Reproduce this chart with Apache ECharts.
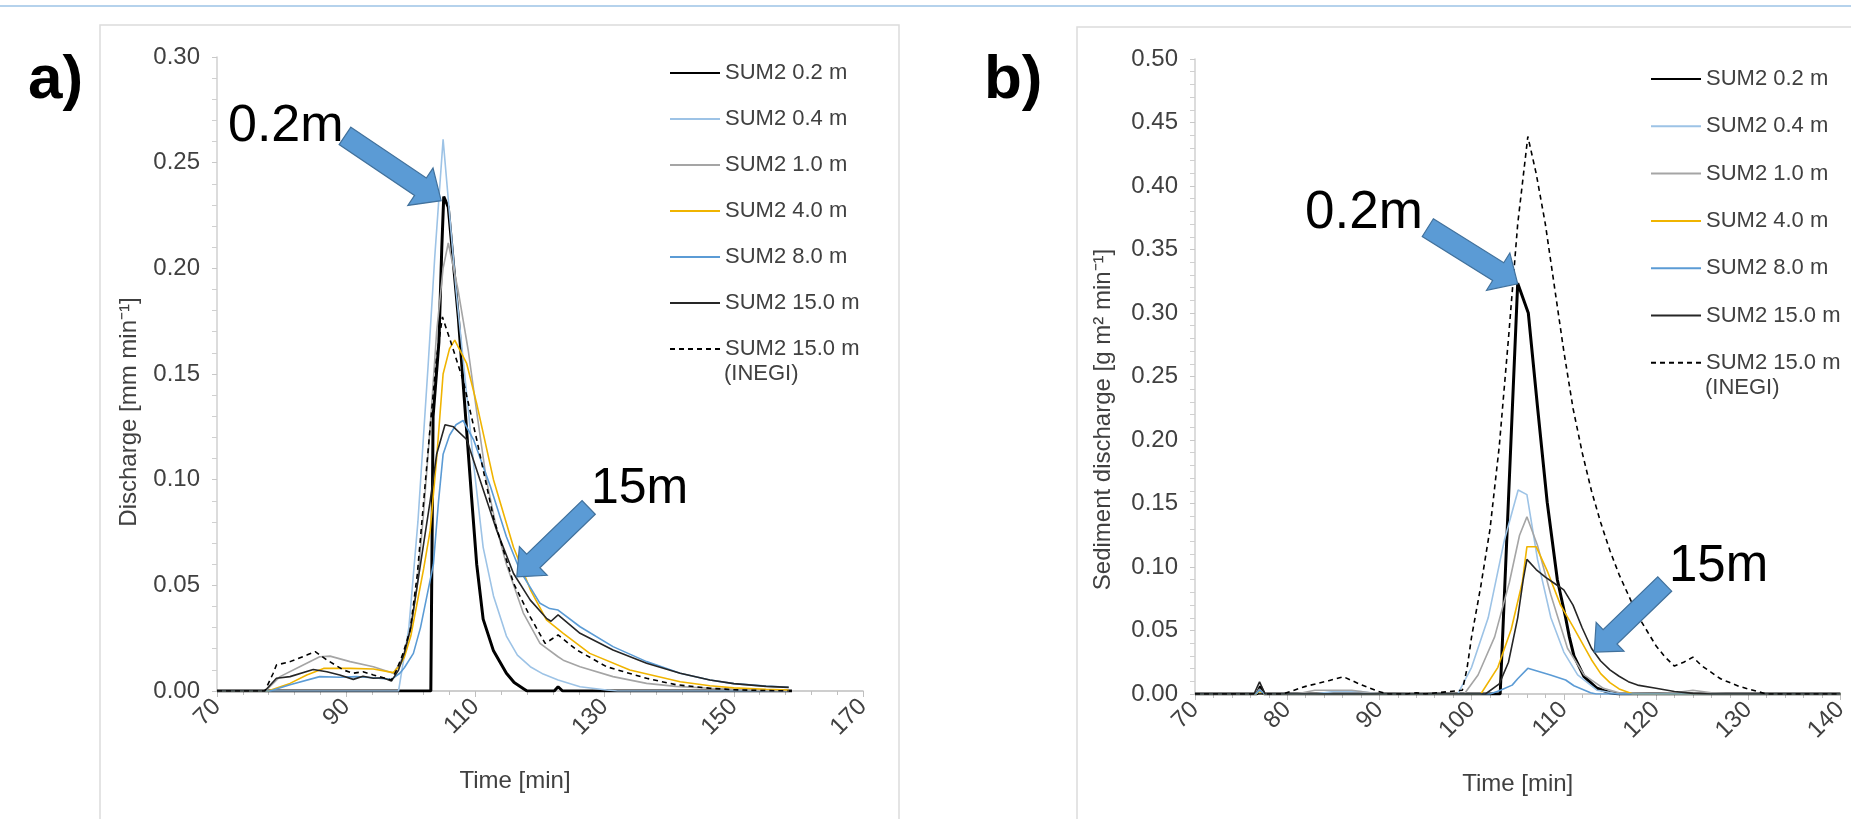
<!DOCTYPE html>
<html lang="en">
<head>
<meta charset="UTF-8">
<title>SUM2 discharge</title>
<script src="https://cdn.jsdelivr.net/npm/echarts@6/dist/echarts.min.js"></script>
<style>
  html, body { margin: 0; padding: 0; background: #fff; }
  #main { width: 1851px; height: 819px; }
</style>
</head>
<body>
<div id="main"></div>
<script>
// series names (same for both panels)
const names = ['SUM2 0.2 m', 'SUM2 0.4 m', 'SUM2 1.0 m', 'SUM2 4.0 m', 'SUM2 8.0 m', 'SUM2 15.0 m', 'SUM2 15.0 m (INEGI)'];

// a) discharge [mm min-1], [time, value]
const qA02 = [[70,0],[103.1,0],[103.45,0.13],[104.35,0.165],[104.8,0.21],[105.1,0.234],[105.8,0.229],[107.35,0.177],[108.65,0.123],[109.4,0.092],[110.2,0.06],[111.2,0.034],[112.8,0.019],[114.8,0.0084],[116,0.004],[117.5,0.001],[118,0],[122.2,0],[122.8,0.002],[123.5,0],[159,0]];
const qA04 = [[70,0],[98.1,0],[99.7,0.03],[101.1,0.08],[102.7,0.155],[103.7,0.205],[105,0.261],[106.3,0.215],[107,0.19],[108,0.16],[109,0.13],[109.7,0.108],[111.2,0.068],[112.8,0.045],[114.8,0.026],[116.5,0.017],[118.5,0.0115],[120.5,0.008],[122.8,0.0052],[126.2,0.002],[130.3,0.0005],[132,0],[158.5,0]];
const qA10 = [[70,0],[77.5,0],[79.75,0.0068],[82.8,0.0115],[85.9,0.0162],[87.5,0.0165],[90.6,0.0139],[94.2,0.0115],[97.3,0.0084],[98.3,0.013],[99,0.018],[100,0.03],[101,0.05],[102,0.085],[103,0.125],[104,0.17],[105,0.2],[105.8,0.212],[107.3,0.19],[108.9,0.161],[110.3,0.13],[111.7,0.1],[113.2,0.078],[114.8,0.06],[117.4,0.037],[120,0.0225],[122.8,0.0162],[123.6,0.0146],[126.2,0.0115],[131.3,0.0068],[136.5,0.0036],[141,0.0022],[146.3,0.0013],[150,0.0008],[155,0.0003],[158.5,0.0002]];
const qA40 = [[70,0],[77.9,0],[81.3,0.0036],[83.9,0.0076],[86.5,0.0107],[90.6,0.0107],[94.2,0.0104],[97.3,0.0087],[98.3,0.012],[99,0.016],[100,0.026],[101,0.042],[102,0.058],[103,0.076],[104,0.11],[105,0.15],[106,0.162],[106.8,0.166],[108.65,0.155],[110.2,0.136],[112.8,0.1],[115.9,0.068],[118.5,0.048],[121,0.0336],[123.6,0.0273],[127.7,0.0178],[133.9,0.0099],[141.7,0.0044],[146.3,0.0025],[150,0.0015],[155,0.0008],[158.5,0.0005]];
const qA80 = [[70,0],[78.2,0],[81.3,0.003],[85.9,0.0068],[89,0.0065],[91.6,0.0068],[94.2,0.0063],[97,0.0055],[98.3,0.0084],[99,0.011],[100.4,0.0178],[101.5,0.03],[102.5,0.045],[103.5,0.06],[104.3,0.09],[105,0.112],[106,0.121],[107,0.126],[108.1,0.128],[109.7,0.119],[112.3,0.097],[114.8,0.073],[116.9,0.057],[120,0.0415],[121.5,0.039],[122.8,0.0383],[126.2,0.0304],[131.3,0.021],[136.5,0.0139],[141.7,0.0084],[146.3,0.0052],[150,0.0035],[155,0.0023],[158.5,0.0018]];
const qA150 = [[70,0],[77.4,0],[79.2,0.006],[81.3,0.0068],[84.9,0.0102],[87,0.0091],[89,0.0076],[91.1,0.0055],[92.6,0.007],[94.2,0.006],[95.7,0.0063],[97,0.0047],[98.1,0.0099],[99,0.018],[100,0.03],[101,0.05],[102,0.07],[103,0.09],[104,0.112],[105.3,0.126],[106.6,0.125],[108.65,0.119],[110.7,0.1],[113.3,0.076],[115.9,0.0556],[118.5,0.043],[121,0.0344],[121.7,0.033],[122.8,0.036],[126.2,0.0273],[131.3,0.0194],[136.5,0.0131],[141.7,0.0084],[146.3,0.0052],[150,0.0035],[155,0.0022],[158.5,0.0017]];
const qAinegi = [[70,0],[77.4,0],[78.7,0.0084],[79.2,0.0123],[81.3,0.0139],[83.9,0.017],[85.2,0.0186],[87,0.0147],[89.6,0.0099],[91.1,0.0084],[92.6,0.0091],[94.2,0.0076],[97,0.0052],[97.8,0.0099],[98.8,0.0178],[99.9,0.0288],[101,0.055],[102,0.09],[103,0.125],[104,0.158],[104.9,0.177],[106.1,0.166],[108.1,0.147],[110.2,0.119],[112.8,0.082],[115.9,0.051],[118.5,0.035],[120.8,0.0225],[122.8,0.0265],[125.7,0.0194],[130.3,0.0115],[136.5,0.006],[141,0.003],[146.3,0.0013],[150,0.0006],[155,0.0002],[158.5,0]];

// b) sediment discharge [g m2 min-1], [time, value]
const sB02 = [[70,0],[76.7,0],[77.1,0.006],[77.5,0],[103.1,0],[105,0.3235],[106.15,0.3],[107.15,0.226],[108.2,0.151],[109.3,0.09],[110.2,0.06],[110.6,0.045],[111.1,0.03],[112.2,0.0136],[113.6,0.0045],[115,0.001],[116,0],[140,0]];
const sB04 = [[70,0],[76.6,0],[77,0.003],[77.5,0],[83,0],[85,0.002],[88,0.002],[90,0],[98.5,0],[100,0.021],[101.8,0.06],[103.55,0.121],[105.05,0.1606],[106,0.157],[107.15,0.106],[108.6,0.06],[110,0.033],[111.5,0.015],[113.6,0.003],[116,0],[140,0]];
const sB10 = [[70,0],[76.6,0],[77,0.004],[77.5,0],[81,0],[83,0.003],[87,0.003],[89,0.001],[91,0],[94,0.001],[96,0],[99.2,0],[100.7,0.015],[102.5,0.045],[104.1,0.088],[105.2,0.125],[106,0.1395],[107.15,0.117],[108.6,0.078],[110.4,0.036],[112.2,0.015],[114.3,0.0045],[116,0.001],[120,0],[122,0.001],[124,0.003],[126,0.001],[128,0],[140,0]];
const sB40 = [[70,0],[76.6,0],[77,0.002],[77.5,0],[101,0],[102.85,0.021],[104.3,0.051],[105.5,0.088],[106,0.116],[107,0.116],[108.2,0.097],[109.65,0.07],[111,0.053],[112,0.04],[113,0.027],[114,0.016],[115,0.009],[116,0.004],[117.5,0],[140,0]];
const sB80 = [[70,0],[76.6,0],[77,0.003],[77.5,0],[102,0],[103,0.0026],[104.4,0.007],[105,0.012],[106.1,0.0202],[108.55,0.015],[110.2,0.011],[111.1,0.0065],[112.9,0.001],[113.5,0],[140,0]];
const sB150 = [[70,0],[76.4,0],[77,0.0095],[77.6,0],[101.5,0],[103,0.008],[104,0.025],[105,0.06],[105.6,0.09],[106,0.106],[107,0.098],[108,0.092],[109,0.087],[110,0.082],[111,0.07],[112,0.052],[113,0.036],[114,0.026],[115,0.019],[116,0.014],[117,0.0097],[118,0.007],[120,0.0045],[122,0.002],[124,0.0005],[126,0],[140,0]];
const sBinegi = [[70,0],[79.5,0],[82,0.006],[84.5,0.0105],[86.1,0.0136],[88.1,0.007],[89.9,0.002],[91,0],[93,0],[94,0.001],[95,0],[99,0.003],[99.5,0.02],[100,0.045],[101,0.085],[102,0.13],[103,0.195],[104,0.28],[105,0.37],[106.1,0.439],[107,0.41],[108,0.37],[109,0.32],[110,0.27],[111,0.225],[112,0.19],[113,0.16],[114,0.135],[115,0.113],[116,0.094],[117,0.078],[118,0.062],[119,0.05],[120,0.038],[121,0.029],[122,0.022],[123,0.025],[124,0.029],[125,0.022],[126,0.017],[127,0.012],[128,0.009],[129,0.006],[130,0.004],[131,0.002],[132,0],[140,0]];

const panelA = [qA02, qA04, qA10, qA40, qA80, qA150, qAinegi];
const panelB = [sB02, sB04, sB10, sB40, sB80, sB150, sBinegi];

// line looks, in the same order as names
const looks = [
    { color: '#000000', width: 3, type: 'solid' },
    { color: '#9dc3e6', width: 1.6, type: 'solid' },
    { color: '#a5a5a5', width: 1.6, type: 'solid' },
    { color: '#f0b400', width: 1.6, type: 'solid' },
    { color: '#5b9bd5', width: 1.6, type: 'solid' },
    { color: '#262626', width: 1.6, type: 'solid' },
    { color: '#000000', width: 1.6, type: [5, 4] }
];

const FONT = 'Liberation Sans, Arial, sans-serif';
const TXT = '#404040';

function makeSeries(data, i, g) {
    return {
        name: names[i],
        type: 'line',
        xAxisIndex: g,
        yAxisIndex: g,
        data: data,
        symbol: 'none',
        showSymbol: false,
        animation: false,
        lineStyle: { color: looks[i].color, width: looks[i].width, type: looks[i].type },
        itemStyle: { color: looks[i].color }
    };
}

// shift moves the axis title left along the axis
function xAxisCfg(g, max, interval, shift) {
    return {
        gridIndex: g, type: 'value', min: 70, max: max, interval: interval,
        name: 'Time [min]', nameLocation: 'middle', nameGap: 78,
        nameTextStyle: { fontFamily: FONT, fontSize: 24, color: TXT, padding: [0, shift * 2, 0, 0] },
        axisLine: { lineStyle: { color: '#bfbfbf', width: 1.5 } },
        axisTick: { show: true, length: 6, lineStyle: { color: '#bfbfbf' } },
        minorTick: { show: true, splitNumber: 5, length: 4, lineStyle: { color: '#bfbfbf' } },
        splitLine: { show: false },
        axisLabel: { rotate: 45, margin: 12, fontFamily: FONT, fontSize: 24, color: TXT }
    };
}

// shift pushes the rotated title down along the axis
function yAxisCfg(g, max, name, gap, size, shift) {
    return {
        gridIndex: g, type: 'value', min: 0, max: max, interval: 0.05,
        name: name, nameLocation: 'middle', nameRotate: 90, nameGap: gap,
        nameTextStyle: { fontFamily: FONT, fontSize: size, color: TXT, padding: [0, shift * 2, 0, 0] },
        axisLine: { show: true, lineStyle: { color: '#d0d0d0', width: 1.5 } },
        axisTick: { show: true, length: 5, lineStyle: { color: '#c8c8c8' } },
        minorTick: { show: true, splitNumber: 5, length: 5, lineStyle: { color: '#d0d0d0' } },
        splitLine: { show: false },
        axisLabel: { margin: 17, fontFamily: FONT, fontSize: 24, color: TXT, formatter: v => v.toFixed(2) }
    };
}

function legendCfg(left, top, gap) {
    return {
        orient: 'vertical', left: left, top: top, padding: 0,
        itemWidth: 50, itemHeight: 14, itemGap: gap,
        selectedMode: false,
        data: names,
        itemStyle: { opacity: 0 },
        formatter: n => n === names[6] ? 'SUM2 15.0 m' : n,
        textStyle: { fontFamily: FONT, fontSize: 22, color: TXT, lineHeight: 24 }
    };
}

const chart = echarts.init(document.getElementById('main'));

const option = {
    backgroundColor: '#ffffff',
    animation: false,
    grid: [
        { left: 217, top: 57, width: 646, height: 634 },
        { left: 1195, top: 59, width: 650, height: 635 }
    ],
    xAxis: [xAxisCfg(0, 170, 20, 25), xAxisCfg(1, 140, 10, 0)],
    yAxis: [
        yAxisCfg(0, 0.3, 'Discharge [mm min\u207B\u00B9]', 76, 24, 38),
        yAxisCfg(1, 0.5, 'Sediment discharge [g m\u00B2 min\u207B\u00B9]', 80, 24, 43)
    ],
    legend: [legendCfg(669, 61, 22), legendCfg(1650, 67, 23.3)],
    series: panelA.map((d, i) => makeSeries(d, i, 0)).concat(panelB.map((d, i) => makeSeries(d, i, 1))),
    graphic: [
        { id: 'topline', type: 'line', shape: { x1: 0, y1: 6, x2: 1851, y2: 6 }, style: { stroke: '#9dc3e6', lineWidth: 1.5 } },
        { id: 'frameA', type: 'rect', shape: { x: 100, y: 25, width: 799, height: 820 }, style: { fill: 'none', stroke: '#dcdcdc', lineWidth: 1.5 } },
        { id: 'frameB', type: 'rect', shape: { x: 1077, y: 27, width: 800, height: 820 }, style: { fill: 'none', stroke: '#dcdcdc', lineWidth: 1.5 } },
        { id: 'labA', type: 'text', x: 28, y: 81, style: { text: 'a)', font: 'bold 62px ' + FONT, fill: '#000', textVerticalAlign: 'middle' } },
        { id: 'labB', type: 'text', x: 984, y: 81, style: { text: 'b)', font: 'bold 62px ' + FONT, fill: '#000', textVerticalAlign: 'middle' } },
        { id: 'tA1', type: 'text', x: 228, y: 127, style: { text: '0.2m', font: '52px ' + FONT, fill: '#000', textVerticalAlign: 'middle' } },
        { id: 'tA2', type: 'text', x: 591, y: 489, style: { text: '15m', font: '50px ' + FONT, fill: '#000', textVerticalAlign: 'middle' } },
        { id: 'tB1', type: 'text', x: 1305, y: 213, style: { text: '0.2m', font: '53px ' + FONT, fill: '#000', textVerticalAlign: 'middle' } },
        { id: 'tB2', type: 'text', x: 1669, y: 567, style: { text: '15m', font: '51px ' + FONT, fill: '#000', textVerticalAlign: 'middle' } },
        { id: 'inA', type: 'text', x: 724, y: 374, style: { text: '(INEGI)', font: '22px ' + FONT, fill: TXT, textVerticalAlign: 'middle' } },
        { id: 'inB', type: 'text', x: 1705, y: 388, style: { text: '(INEGI)', font: '22px ' + FONT, fill: TXT, textVerticalAlign: 'middle' } }
    ]
};
chart.setOption(option);

// block arrows, tip anchored to a data point, tail set by angle and length (px)
const arrows = [
    { id: 'arA1', grid: 0, at: [104.7, 0.232], angle: 34, len: 116, shaft: 21, head: 45, headLen: 25 },
    { id: 'arA2', grid: 0, at: [116.4, 0.054], angle: 136, len: 100, shaft: 19, head: 40, headLen: 23 },
    { id: 'arB1', grid: 1, at: [105.0, 0.323], angle: 32, len: 106, shaft: 21, head: 44, headLen: 23 },
    { id: 'arB2', grid: 1, at: [113.3, 0.033], angle: 136, len: 98, shaft: 20, head: 40, headLen: 22 }
];

function arrowPoints(tip, a) {
    const r = a.angle * Math.PI / 180;
    const ux = Math.cos(r), uy = Math.sin(r);
    const px = -uy, py = ux;
    const pt = (along, side) => [tip[0] + ux * along + px * side, tip[1] + uy * along + py * side];
    return [
        pt(-a.len, -a.shaft / 2), pt(-a.headLen, -a.shaft / 2), pt(-a.headLen, -a.head / 2),
        pt(0, 0),
        pt(-a.headLen, a.head / 2), pt(-a.headLen, a.shaft / 2), pt(-a.len, a.shaft / 2)
    ];
}

const arrowEls = arrows.map(a => {
    const tip = chart.convertToPixel({ gridIndex: a.grid }, a.at);
    return {
        id: a.id, type: 'polygon', z: 100,
        shape: { points: arrowPoints(tip, a) },
        style: { fill: '#5b9bd5', stroke: '#41719c', lineWidth: 1.2 }
    };
});
chart.setOption({ graphic: arrowEls });
</script>
</body>
</html>
